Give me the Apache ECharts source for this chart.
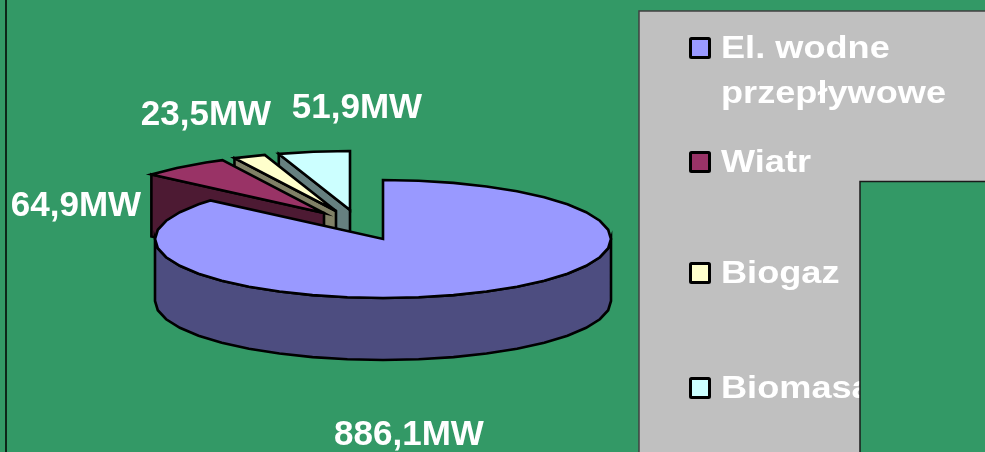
<!DOCTYPE html>
<html>
<head>
<meta charset="utf-8">
<style>html,body{margin:0;padding:0;background:#339966}#chart{width:985px;height:452px}</style>
<script src="https://cdn.jsdelivr.net/npm/echarts@6/dist/echarts.min.js"></script>
</head>
<body>
<div id="chart"></div>
<script>
// Installed capacity by source, in MW
const categories = ['El. wodne\nprzepływowe', 'Wiatr', 'Biogaz', 'Biomasa'];
const capacityMW = [886.1, 64.9, 23.5, 51.9];
const topColors = ['#9999FF', '#993366', '#FFFFCC', '#CCFFFF'];
const sideColors = ['#4D4D80', '#4D1A33', '#808066', '#668080'];

// Tilted-disc geometry
const disc = { cx: 383, cy: 239, rx: 228, ry: 59, depth: 62, step: 9 };
const explode = [[0, 0], [-59, -26], [-47, -28], [-33, -29]];
const paintOrder = [40, 30, 20, 10];
const labelAnchors = [[76, 206], [206, 115], [357, 108], [409, 435]];
const labelSlice = [1, 2, 3, 0];
const legendRows = [48, 162, 273, 388];

const total = capacityMW.reduce((a, b) => a + b, 0);
const spans = [];
capacityMW.reduce((acc, v) => {
  const end = acc + v / total * 360;
  spans.push([acc, end]);
  return end;
}, 0);

const formatMW = v => v.toFixed(1).replace('.', ',') + 'MW';

function rim(deg, ox, oy, dy) {
  const a = deg * Math.PI / 180;
  return [disc.cx + ox + disc.rx * Math.sin(a), disc.cy + oy + dy - disc.ry * Math.cos(a)];
}

function arc(from, to, ox, oy, dy) {
  const pts = [];
  for (let d = from; d < to; d += disc.step) pts.push(rim(d, ox, oy, dy));
  pts.push(rim(to, ox, oy, dy));
  return pts;
}

const edge = { stroke: '#000', lineWidth: 2.6, lineJoin: 'miter' };

function renderSlice(params, api) {
  const i = params.dataIndex;
  const [start, end] = [api.value(1), api.value(2)];
  const [ox, oy] = explode[i];
  const vertex = [disc.cx + ox, disc.cy + oy];
  const z = paintOrder[i];
  const children = [];
  if (i === 0) {
    // Front wall of the large slice
    const top = arc(90, 270, ox, oy, 0);
    const bottom = arc(90, 270, ox, oy, disc.depth).reverse();
    children.push({
      type: 'polygon', z2: z,
      shape: { points: top.concat(bottom) },
      style: Object.assign({ fill: sideColors[i] }, edge)
    });
  } else {
    // Cut face along the leading radius of a pulled-out slice
    const corner = rim(start, ox, oy, 0);
    children.push({
      type: 'polygon', z2: z,
      shape: { points: [vertex, corner, [corner[0], corner[1] + disc.depth], [vertex[0], vertex[1] + disc.depth]] },
      style: Object.assign({ fill: sideColors[i] }, edge)
    });
  }
  children.push({
    type: 'polygon', z2: z + 1,
    shape: { points: [vertex].concat(arc(start, end, ox, oy, 0)) },
    style: Object.assign({ fill: topColors[i] }, edge)
  });
  return { type: 'group', children };
}

function renderLabel(params, api) {
  const i = params.dataIndex;
  const slot = labelSlice.indexOf(i);
  return {
    type: 'text', x: labelAnchors[slot][0], y: labelAnchors[slot][1],
    style: {
      text: formatMW(api.value(0)), fill: '#fff',
      font: 'bold 35px "Liberation Sans", Arial, sans-serif',
      align: 'center', verticalAlign: 'middle'
    }
  };
}

function renderLegend(params, api) {
  const i = params.dataIndex;
  const rowY = legendRows[i];
  return {
    type: 'group',
    children: [
      {
        type: 'rect',
        shape: { x: 690.5, y: rowY - 9.5, width: 19, height: 19, r: 1 },
        style: { fill: topColors[i], stroke: '#000', lineWidth: 3 }
      },
      {
        type: 'text', x: 721, y: rowY - 21.5, scaleX: 1.13,
        style: {
          text: categories[i], fill: '#fff',
          font: 'bold 32px "Liberation Sans", Arial, sans-serif',
          lineHeight: 45, align: 'left', verticalAlign: 'top'
        }
      }
    ]
  };
}

const rows = capacityMW.map((v, i) => [v, spans[i][0], spans[i][1]]);
const silent = { coordinateSystem: 'none', type: 'custom', silent: true, animation: false, data: rows };

const chart = echarts.init(document.getElementById('chart'), null, { renderer: 'canvas' });
chart.setOption({
  animation: false,
  backgroundColor: '#339966',
  tooltip: { show: false },
  graphic: [
    // Outer frame line and legend panel
    { type: 'line', z: 0, shape: { x1: 6, y1: 0, x2: 6, y2: 452 }, style: { stroke: '#000', lineWidth: 1.5 } },
    {
      type: 'rect', z: 0,
      shape: { x: 639, y: 11, width: 400, height: 500 },
      style: { fill: '#C0C0C0', stroke: '#404040', lineWidth: 1.5 }
    },
    // Background block laid over the lower right of the panel
    {
      type: 'rect', z: 100,
      shape: { x: 860, y: 181.5, width: 200, height: 320 },
      style: { fill: '#339966', stroke: '#1a1a1a', lineWidth: 1.5 }
    }
  ],
  series: [
    Object.assign({}, silent, { z: 5, renderItem: renderSlice }),
    Object.assign({}, silent, { z: 6, renderItem: renderLabel }),
    Object.assign({}, silent, { z: 7, renderItem: renderLegend })
  ]
});
</script>
</body>
</html>
